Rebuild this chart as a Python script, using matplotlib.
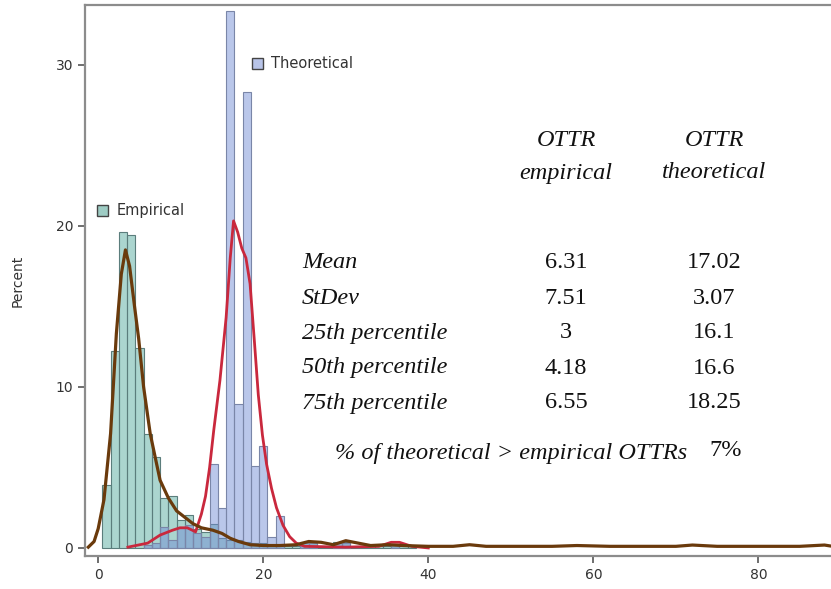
import matplotlib
matplotlib.use("Agg")
import matplotlib.pyplot as plt
from matplotlib.patches import Rectangle

# ---- data (percent per 1-unit bin, bins centred on integers)
emp_bins = [1, 2, 3, 4, 5, 6, 7, 8, 9, 10, 11, 12, 13, 14, 15, 16, 17, 18, 19, 20,
            21, 22, 23, 24, 25, 26, 27, 28, 29, 30, 31, 32, 33, 34, 35, 36, 37, 38]
emp_pct = [3.9, 12.2, 19.6, 19.45, 12.4, 7.1, 5.65, 3.07, 3.2, 1.72, 2.05, 1.2, 1.0, 1.5,
           0.6, 0.5, 0.5, 0.4, 0.3, 0.3, 0.2, 0.2, 0.15, 0.15, 0.35, 0.35, 0.15, 0.15,
           0.4, 0.4, 0.15, 0.1, 0.1, 0.1, 0.1, 0.2, 0.1, 0.1]

theo_bins = [6, 7, 8, 9, 10, 11, 12, 13, 14, 15, 16, 17, 18, 19, 20, 21, 22, 25, 26, 29, 30, 36]
theo_pct = [0.2, 0.3, 1.3, 0.5, 1.3, 1.4, 0.9, 0.7, 5.2, 2.45, 33.3, 8.95, 28.27, 5.07,
            6.32, 0.68, 1.97, 0.3, 0.3, 0.3, 0.3, 0.2]

# density curves
emp_kde_x = [-1.2, -0.5, 0, 0.7, 1.5, 2.2, 2.8, 3.3, 3.8, 4.4, 4.9, 5.5, 6.3, 7, 7.5, 8.5,
             9.5, 10.5, 11.5, 12.5, 13.9, 15, 16, 17, 18.4, 20, 22, 24, 25.5, 27, 28.5, 30,
             31.5, 33, 35, 37, 40, 43, 45, 47, 50, 55, 58, 62, 66, 70, 72, 75, 80, 85, 88, 89]
emp_kde_y = [0.05, 0.4, 1.2, 3.0, 7.1, 13.3, 17.0, 18.5, 17.5, 15.0, 13.0, 10.0, 7.1, 5.4,
             4.2, 3.1, 2.3, 1.9, 1.5, 1.25, 1.1, 0.9, 0.6, 0.4, 0.2, 0.15, 0.15, 0.2, 0.4,
             0.35, 0.2, 0.45, 0.3, 0.15, 0.2, 0.15, 0.1, 0.1, 0.2, 0.1, 0.1, 0.1, 0.15, 0.1,
             0.1, 0.1, 0.18, 0.1, 0.1, 0.1, 0.18, 0.1]

theo_kde_x = [3.6, 6, 7.5, 9, 9.9, 10.8, 11.8, 12.5, 13, 13.5, 14, 14.75, 15.5, 16, 16.4,
              16.9, 17.4, 17.9, 18.4, 18.9, 19.4, 19.9, 20.4, 21, 21.6, 22.4, 23.2, 24, 25,
              30, 34, 35.5, 36.5, 38, 40]
theo_kde_y = [0.05, 0.3, 0.8, 1.1, 1.25, 1.25, 1.0, 2.1, 3.2, 5.0, 7.3, 10.4, 14.3, 18.0,
              20.3, 19.6, 18.6, 18.0, 16.4, 13.0, 9.5, 7.0, 5.2, 3.7, 2.5, 1.4, 0.7, 0.3,
              0.1, 0.05, 0.1, 0.35, 0.35, 0.1, 0.0]

x_ticks = [0, 20, 40, 60, 80]
y_ticks = [0, 10, 20, 30]

col_heads = [("OTTR", "empirical"), ("OTTR", "theoretical")]
row_labels = ["Mean", "StDev", "25th percentile", "50th percentile", "75th percentile"]
emp_stats = ["6.31", "7.51", "3", "4.18", "6.55"]
theo_stats = ["17.02", "3.07", "16.1", "16.6", "18.25"]
footer_label = "% of theoretical > empirical OTTRs"
footer_value = "7%"

# ---- styling
emp_face = (0.40, 0.70, 0.66, 0.55)
emp_edge = "#5b7d7c"
theo_face = (0.44, 0.54, 0.83, 0.48)
theo_edge = "#7a86a8"
brown = "#6a3a0c"
red = "#c9283d"

fig = plt.figure(figsize=(8.31, 5.89), dpi=100)
ax = fig.add_axes([85 / 831, 1 - 556 / 589, 1 - 85 / 831 + 0.01, (556 - 5) / 589])

ax.bar(emp_bins, emp_pct, width=1.0, color=emp_face, edgecolor=emp_edge, linewidth=0.8, zorder=2)
ax.bar(theo_bins, theo_pct, width=1.0, color=theo_face, edgecolor=theo_edge, linewidth=0.8, zorder=3)
ax.plot(theo_kde_x, theo_kde_y, color=red, lw=2.0, zorder=4, solid_joinstyle="round")
ax.plot(emp_kde_x, emp_kde_y, color=brown, lw=2.3, zorder=5, solid_joinstyle="round")

ax.set_xlim(-1.6, 89.8)
ax.set_ylim(-0.5, 33.7)
ax.set_xticks(x_ticks)
ax.set_yticks(y_ticks)
for s in ["left", "bottom", "top", "right"]:
    ax.spines[s].set_color("#8c8c8c")
    ax.spines[s].set_linewidth(1.6)
ax.tick_params(colors="#555555", labelcolor="#333333", labelsize=10, length=5, width=1.2)
ax.set_ylabel("Percent", fontsize=10, color="#333333", labelpad=22)

# legends inside the plot
def legend_item(x_px, y_px, face, label):
    fx, fy = x_px / 831, 1 - y_px / 589
    fig.patches.append(Rectangle((fx - 0.006, fy - 0.0085), 11 / 831, 11 / 589,
                                 transform=fig.transFigure, facecolor=face,
                                 edgecolor="#444444", linewidth=1.0, zorder=10))
    fig.text(fx + 0.017, fy, label, fontsize=10.5, color="#333333", va="center", ha="left")

legend_item(102, 211, (0.62, 0.80, 0.77), "Empirical")
legend_item(257, 64, (0.72, 0.77, 0.91), "Theoretical")

# statistics table
serif = ["Liberation Serif", "DejaVu Serif"]
fs = 17.5
tk = dict(family=serif, style="italic", fontsize=fs, color="#111111", va="center")
col_x = [566, 714]
for cx, (h1, h2) in zip(col_x, col_heads):
    fig.text(cx / 831, 1 - 140 / 589, h1, ha="center", **tk)
    fig.text(cx / 831, 1 - 173 / 589, h2, ha="center", **tk)
row_y = [263, 298, 333, 368, 403]
vk = dict(family=serif, fontsize=fs, color="#111111", va="center", ha="center")
for ry, lab, ev, tv in zip(row_y, row_labels, emp_stats, theo_stats):
    fig.text(302 / 831, 1 - ry / 589, lab, ha="left", **tk)
    fig.text(566 / 831, 1 - ry / 589, ev, **vk)
    fig.text(714 / 831, 1 - ry / 589, tv, **vk)
fig.text(335 / 831, 1 - 453 / 589, footer_label, ha="left", **tk)
fig.text(726 / 831, 1 - 451 / 589, footer_value, **vk)

fig.savefig("out.png", dpi=100)
